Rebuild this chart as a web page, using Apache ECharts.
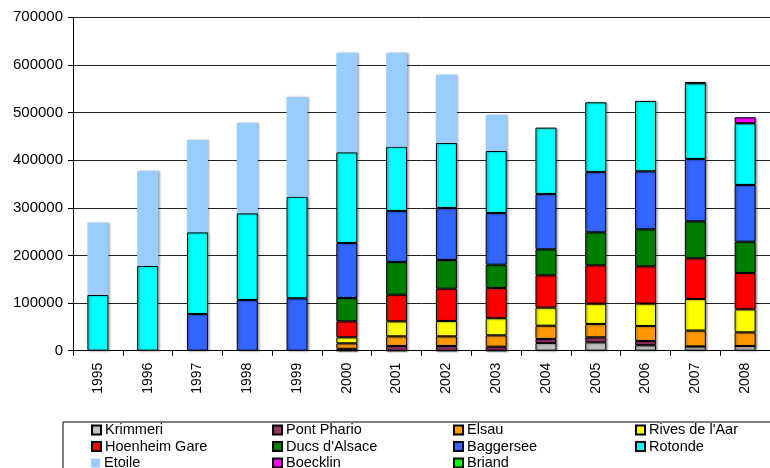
<!DOCTYPE html>
<html>
<head>
<meta charset="utf-8">
<script src="https://cdn.jsdelivr.net/npm/echarts@6/dist/echarts.min.js"></script>
<style>
  html, body { margin: 0; padding: 0; background: #fff; }
  #chart { width: 770px; height: 468px; }
</style>
</head>
<body>
<div id="chart"></div>
<script>
// Yearly passenger counts per park-and-ride site, stacked by year
const years = ['1995','1996','1997','1998','1999','2000','2001','2002','2003','2004','2005','2006','2007','2008'];

const krimmeri     = [null, null, null, null, null, 0, 0, 0, 0, 16200, 17600, 11500, 9000, 9900];
const pontPhario   = [null, null, null, null, null, 4000, 9900, 9900, 8400, 8400, 10500, 8900, 0, 0];
const elsau        = [null, null, null, null, null, 11500, 20300, 20300, 23900, 27900, 28000, 31500, 33300, 28700];
const rivesAar     = [null, null, null, null, null, 12600, 31500, 32200, 36000, 38000, 42600, 47000, 66300, 48300];
const hoenheimGare = [null, null, null, null, null, 33600, 55900, 67800, 63400, 67800, 80600, 78300, 85400, 76300];
const ducsAlsace   = [null, null, null, null, null, 49000, 68700, 60300, 48900, 54600, 69300, 77700, 77700, 65700];
const baggersee    = [null, null, 77000, 106500, 110000, 115500, 107100, 109200, 108600, 116200, 126700, 121800, 130900, 119100];
const rotonde      = [117000, 178000, 171600, 182000, 213400, 190400, 135000, 136500, 130200, 139200, 146300, 147700, 159000, 129500];
const etoile       = [151800, 199400, 193900, 189700, 209400, 209200, 197400, 143400, 75600, null, null, null, null, null];
const boecklin     = [null, null, null, null, null, null, null, null, null, null, null, null, 2500, 12600];
const briand       = [null, null, null, null, null, null, null, null, null, null, null, null, null, null];

const yTicks = { min: 0, max: 700000, step: 100000 };

const seriesDefs = [
  { name: 'Krimmeri',       data: krimmeri,     color: '#C0C0C0' },
  { name: 'Pont Phario',    data: pontPhario,   color: '#993366' },
  { name: 'Elsau',          data: elsau,        color: '#FF9900' },
  { name: "Rives de l'Aar", data: rivesAar,     color: '#FFFF00' },
  { name: 'Hoenheim Gare',  data: hoenheimGare, color: '#FF0000' },
  { name: "Ducs d'Alsace",  data: ducsAlsace,   color: '#008000' },
  { name: 'Baggersee',      data: baggersee,    color: '#3366FF' },
  { name: 'Rotonde',        data: rotonde,      color: '#00FFFF' },
  { name: 'Etoile',         data: etoile,       color: '#99CCFF', noBorder: true },
  { name: 'Boecklin',       data: boecklin,     color: '#FF00FF' },
  { name: 'Briand',         data: briand,       color: '#00FF00' }
];

const font = 'Liberation Sans, Arial, sans-serif';

const series = seriesDefs.map(d => ({
  name: d.name,
  type: 'bar',
  stack: 'total',
  barWidth: 21,
  data: d.data,
  itemStyle: {
    color: d.color,
    borderColor: '#000',
    borderWidth: d.noBorder ? 0 : 1,
    shadowColor: 'rgba(0,0,0,0.35)',
    shadowBlur: 2,
    shadowOffsetX: 1.5,
    shadowOffsetY: 0.5
  },
  emphasis: { disabled: true },
  animation: false
}));

// legend: four columns by three rows inside a framed box, one entry each
const legendColsX = [91, 272, 453, 635];
const legendRowsY = [430, 446.5, 463];
const legendGrid = [
  ['Krimmeri', 'Pont Phario', 'Elsau', "Rives de l'Aar"],
  ['Hoenheim Gare', "Ducs d'Alsace", 'Baggersee', 'Rotonde'],
  ['Etoile', 'Boecklin', 'Briand']
];

const legends = [];
legendGrid.forEach((row, r) => {
  row.forEach((name, c) => {
    legends.push({
      orient: 'horizontal',
      left: legendColsX[c],
      top: legendRowsY[r] - 8,
      itemWidth: 9,
      itemHeight: 9,
      icon: 'rect',
      selectedMode: false,
      padding: 0,
      textStyle: { fontFamily: font, fontSize: 14.5, lineHeight: 16, color: '#000', padding: [0, 0, 0, -1] },
      data: [name]
    });
  });
});

const chart = echarts.init(document.getElementById('chart'), null, { renderer: 'canvas' });
chart.setOption({
  animation: false,
  backgroundColor: '#fff',
  grid: { left: 73, right: -10, top: 17.3, bottom: 117.3, containLabel: false },
  legend: legends,
  graphic: [{
    type: 'rect',
    left: 60.5,
    top: 419.5,
    shape: { width: 720, height: 60 },
    style: { fill: 'none', stroke: '#000', lineWidth: 1 },
    silent: true
  }],
  xAxis: {
    type: 'category',
    data: years,
    boundaryGap: true,
    axisLine: { lineStyle: { color: '#000', width: 1 } },
    axisTick: { show: true, length: 5, lineStyle: { color: '#000' } },
    axisLabel: {
      rotate: 90,
      margin: 12,
      fontFamily: font,
      fontSize: 14,
      color: '#000'
    }
  },
  yAxis: {
    type: 'value',
    min: yTicks.min,
    max: yTicks.max,
    interval: yTicks.step,
    axisLine: { show: true, lineStyle: { color: '#000', width: 1 } },
    axisTick: { show: true, length: 5, lineStyle: { color: '#000' } },
    axisLabel: {
      margin: 10,
      fontFamily: font,
      fontSize: 15,
      color: '#000',
      formatter: v => String(v)
    },
    splitLine: { show: true, lineStyle: { color: '#222', width: 1 } }
  },
  series: series
});
</script>
</body>
</html>
